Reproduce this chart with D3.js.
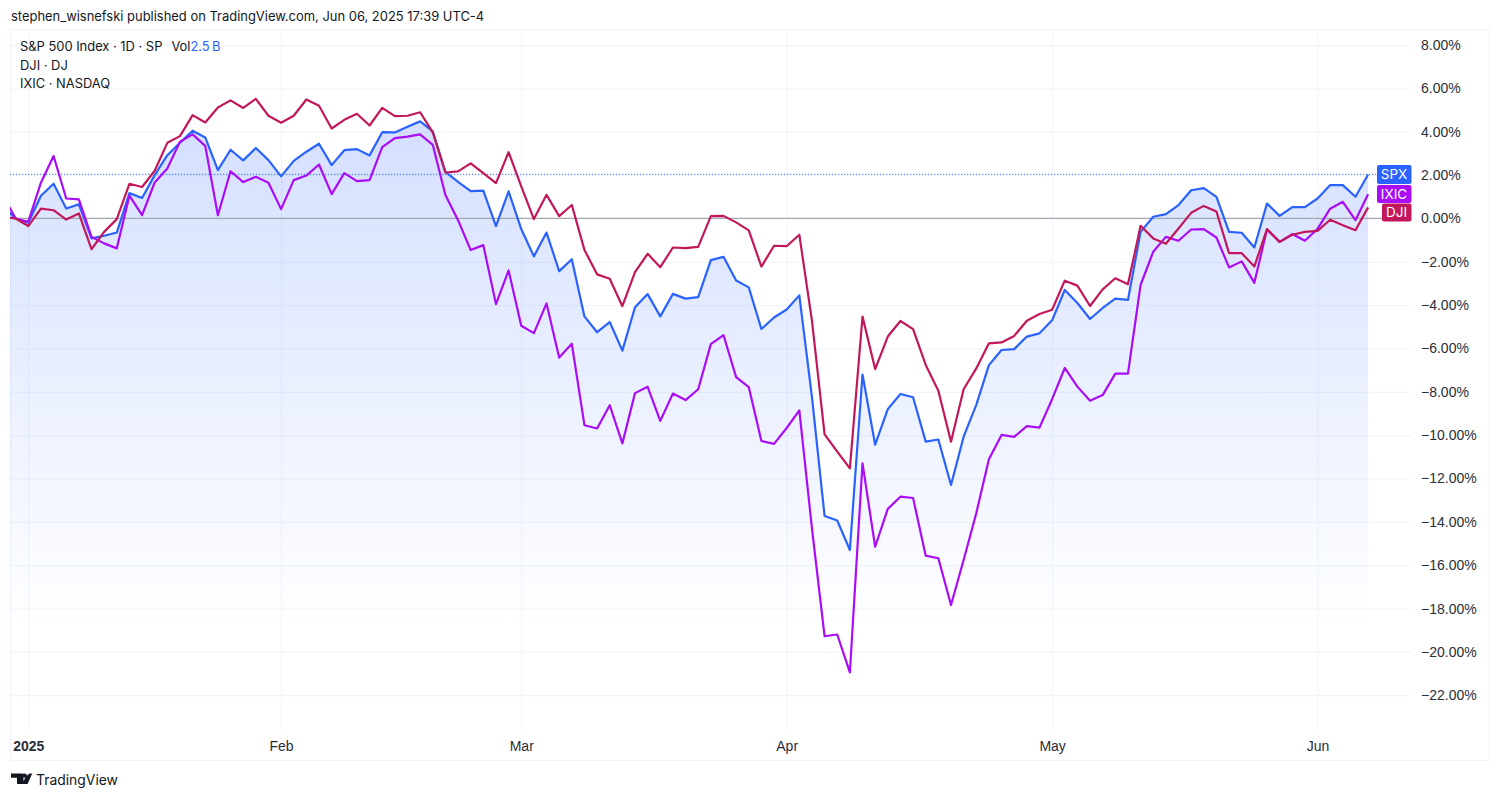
<!DOCTYPE html>
<html lang="en">
<head>
    <meta charset="UTF-8">
    <title>SPX, DJI, IXIC - 2025 YTD</title>
    <script src="https://d3js.org/d3.v7.min.js"></script>
    <style>
        body { margin: 0; background: #fff; }
        svg { display: block; font-family: Inter, "Noto Sans", Arial, sans-serif; }
        .y-axis text, .x-axis text { fill: #2a2e39; font-size: 14px; }
    </style>
</head>
<body>
    <svg id="chart" width="1500" height="798"></svg>

    <script>
        // trading days, Dec 30 sits left of the pane and gets clipped
        const tradingDays = [
            "2024-12-30", "2024-12-31",
            "2025-01-02", "2025-01-03", "2025-01-06", "2025-01-07", "2025-01-08", "2025-01-10", "2025-01-13", "2025-01-14", "2025-01-15", "2025-01-16",
            "2025-01-17", "2025-01-21", "2025-01-22", "2025-01-23", "2025-01-24", "2025-01-27", "2025-01-28", "2025-01-29", "2025-01-30", "2025-01-31",
            "2025-02-03", "2025-02-04", "2025-02-05", "2025-02-06", "2025-02-07", "2025-02-10", "2025-02-11", "2025-02-12", "2025-02-13", "2025-02-14",
            "2025-02-18", "2025-02-19", "2025-02-20", "2025-02-21", "2025-02-24", "2025-02-25", "2025-02-26", "2025-02-27", "2025-02-28",
            "2025-03-03", "2025-03-04", "2025-03-05", "2025-03-06", "2025-03-07", "2025-03-10", "2025-03-11", "2025-03-12", "2025-03-13", "2025-03-14",
            "2025-03-17", "2025-03-18", "2025-03-19", "2025-03-20", "2025-03-21", "2025-03-24", "2025-03-25", "2025-03-26", "2025-03-27", "2025-03-28", "2025-03-31",
            "2025-04-01", "2025-04-02", "2025-04-03", "2025-04-04", "2025-04-07", "2025-04-08", "2025-04-09", "2025-04-10", "2025-04-11", "2025-04-14",
            "2025-04-15", "2025-04-16", "2025-04-17", "2025-04-21", "2025-04-22", "2025-04-23", "2025-04-24", "2025-04-25", "2025-04-28", "2025-04-29", "2025-04-30",
            "2025-05-01", "2025-05-02", "2025-05-05", "2025-05-06", "2025-05-07", "2025-05-08", "2025-05-09", "2025-05-12", "2025-05-13", "2025-05-14", "2025-05-15",
            "2025-05-16", "2025-05-19", "2025-05-20", "2025-05-21", "2025-05-22", "2025-05-23", "2025-05-27", "2025-05-28", "2025-05-29", "2025-05-30",
            "2025-06-02", "2025-06-03", "2025-06-04", "2025-06-05", "2025-06-06"
        ];

        const spx = [
            0.55, 0,
            -0.2, 1.05, 1.6, 0.46, 0.65, -0.92, -0.8, -0.65, 1.17, 0.94, 2.0, 2.92, 3.49, 4.05, 3.74, 2.23, 3.17, 2.68, 3.25, 2.69,
            1.94, 2.66, 3.08, 3.45, 2.46, 3.15, 3.2, 2.91, 3.98, 3.97, 4.23, 4.48, 4.02, 2.15, 1.69, 1.26, 1.28, -0.35, 1.25,
            -0.49, -1.75, -0.65, -2.43, -1.88, -4.52, -5.25, -4.78, -6.1, -4.1, -3.49, -4.52, -3.48, -3.7, -3.63, -1.92, -1.77, -2.86, -3.18, -5.1, -4.57,
            -4.2, -3.55, -8.25, -13.73, -13.94, -15.3, -7.2, -10.44, -8.8, -8.1, -8.25, -10.3, -10.2, -12.3, -10.07, -8.6, -6.77, -6.07, -6.03, -5.45, -5.3,
            -4.7, -3.3, -3.9, -4.64, -4.13, -3.7, -3.76, -0.62, 0.08, 0.2, 0.62, 1.3, 1.4, 1.0, -0.62, -0.66, -1.34, 0.69, 0.12, 0.52, 0.52,
            0.92, 1.54, 1.54, 1.0, 2.03
        ];
        const dji = [
            0.07, 0,
            -0.35, 0.45, 0.38, -0.05, 0.23, -1.42, -0.62, -0.03, 1.6, 1.45, 2.2, 3.49, 3.8, 4.77, 4.43, 5.12, 5.45, 5.1, 5.52, 4.74,
            4.42, 4.74, 5.49, 5.2, 4.15, 4.55, 4.83, 4.29, 5.1, 4.72, 4.74, 4.9, 3.97, 2.12, 2.17, 2.54, 2.09, 1.63, 3.06,
            1.48, -0.03, 1.09, 0.11, 0.62, -1.45, -2.58, -2.78, -4.05, -2.48, -1.63, -2.25, -1.34, -1.37, -1.31, 0.11, 0.12, -0.18, -0.55, -2.22, -1.26,
            -1.28, -0.75, -4.72, -9.96, -10.76, -11.53, -4.53, -6.95, -5.45, -4.73, -5.11, -6.76, -7.95, -10.3, -7.88, -6.92, -5.76, -5.72, -5.42, -4.72, -4.41,
            -4.21, -2.87, -3.1, -4.04, -3.27, -2.76, -3.04, -0.34, -0.92, -1.17, -0.46, 0.26, 0.58, 0.32, -1.6, -1.6, -2.22, -0.49, -1.08, -0.75, -0.62,
            -0.57, -0.06, -0.31, -0.54, 0.51
        ];
        const ixic = [
            1.05, 0,
            -0.15, 1.65, 2.88, 0.92, 0.88, -0.85, -1.15, -1.38, 1.05, 0.15, 1.66, 2.31, 3.54, 3.88, 3.35, 0.15, 2.18, 1.68, 1.92, 1.65,
            0.43, 1.77, 1.98, 2.49, 1.12, 2.09, 1.72, 1.77, 3.29, 3.71, 3.78, 3.88, 3.4, 1.08, -0.08, -1.46, -1.23, -3.95, -2.4,
            -4.95, -5.29, -3.92, -6.42, -5.78, -9.54, -9.69, -8.62, -10.38, -8.06, -7.77, -9.34, -8.08, -8.38, -7.88, -5.8, -5.38, -7.32, -7.78, -10.27, -10.4,
            -9.67, -8.86, -14.3, -19.28, -19.2, -20.95, -11.3, -15.15, -13.4, -12.84, -12.9, -15.56, -15.68, -17.84, -15.76, -13.6, -11.11, -9.99, -10.08, -9.58, -9.65,
            -8.34, -6.9, -7.76, -8.41, -8.15, -7.16, -7.16, -3.07, -1.54, -0.85, -1.03, -0.51, -0.49, -0.88, -2.26, -1.98, -2.97, -0.51, -1.08, -0.72, -1.03,
            -0.48, 0.45, 0.77, -0.08, 1.12
        ];

        const yTicks = [8, 6, 4, 2, 0, -2, -4, -6, -8, -10, -12, -14, -16, -18, -20, -22];
        const monthTicks = ["2025-01-02", "2025-02-03", "2025-03-03", "2025-04-01", "2025-05-01", "2025-06-02"];
        const monthLabels = ["2025", "Feb", "Mar", "Apr", "May", "Jun"];
        const legendLines = ["S&P 500 Index · 1D · SP", "DJI · DJ", "IXIC · NASDAQ"];

        const BLUE = "#2962ff", PURPLE = "#aa0cf5", RED = "#c2185b", GRID = "#f0f3fa";
        const pane = { left: 10, right: 1411, top: 30, bottom: 730 };

        const svg = d3.select("#chart");

        const x = d3.scalePoint().domain(tradingDays).range([3.02, 1368.1]);
        const y = d3.scaleLinear().domain([8, -22]).range([45.1, 695.2]);

        svg.append("defs").append("clipPath").attr("id", "pane")
            .append("rect")
            .attr("x", pane.left).attr("y", pane.top)
            .attr("width", pane.right - pane.left).attr("height", pane.bottom - pane.top);

        const grad = svg.select("defs").append("linearGradient")
            .attr("id", "areaFill").attr("gradientUnits", "userSpaceOnUse")
            .attr("x1", 0).attr("x2", 0).attr("y1", y(4.5)).attr("y2", 625);
        grad.append("stop").attr("offset", 0).attr("stop-color", BLUE).attr("stop-opacity", 0.2);
        grad.append("stop").attr("offset", 1).attr("stop-color", BLUE).attr("stop-opacity", 0);

        // outer frame and title
        svg.append("rect").attr("x", 10.5).attr("y", 29.5).attr("width", 1479).attr("height", 731)
            .attr("fill", "none").attr("stroke", GRID);
        svg.append("text").attr("x", 11).attr("y", 21).attr("font-size", 12.95).attr("fill", "#131722")
            .text("stephen_wisnefski published on TradingView.com, Jun 06, 2025 17:39 UTC-4");

        // grid
        svg.append("g").attr("transform", `translate(${pane.left},0)`)
            .call(d3.axisRight(y).tickValues(yTicks).tickSize(pane.right - pane.left).tickFormat(""))
            .call(g => g.select(".domain").remove())
            .call(g => g.selectAll("line").attr("stroke", GRID));
        svg.append("g").attr("transform", `translate(0,${pane.top})`)
            .call(d3.axisBottom(x).tickValues(monthTicks).tickSize(pane.bottom - pane.top).tickFormat(""))
            .call(g => g.select(".domain").remove())
            .call(g => g.selectAll("line").attr("stroke", GRID));

        const plot = svg.append("g").attr("clip-path", "url(#pane)");

        const area = d3.area()
            .x((d, i) => x(tradingDays[i]))
            .y0(pane.bottom)
            .y1(d => y(d));
        const line = d3.line()
            .x((d, i) => x(tradingDays[i]))
            .y(d => y(d));

        plot.append("path").datum(spx).attr("d", area).attr("fill", "url(#areaFill)");

        // zero line and last-price line
        plot.append("line").attr("x1", pane.left).attr("x2", pane.right)
            .attr("y1", y(0)).attr("y2", y(0)).attr("stroke", "#a6a8b0").attr("stroke-width", 1.2);
        plot.append("line").attr("x1", pane.left).attr("x2", 1377)
            .attr("y1", y(spx[spx.length - 1])).attr("y2", y(spx[spx.length - 1]))
            .attr("stroke", BLUE).attr("stroke-opacity", 0.75).attr("stroke-width", 1.2).attr("stroke-dasharray", "1.2 1.8");

        [[spx, BLUE], [ixic, PURPLE], [dji, RED]].forEach(([values, color]) => {
            plot.append("path").datum(values).attr("d", line)
                .attr("fill", "none").attr("stroke", color).attr("stroke-width", 2.2)
                .attr("stroke-linejoin", "round");
        });

        // axes
        svg.append("g").attr("class", "y-axis").attr("transform", "translate(1421,0)")
            .call(d3.axisRight(y).tickValues(yTicks).tickSize(0).tickPadding(0)
                .tickFormat(d => (d < 0 ? "\u2212" : "") + d3.format(".2f")(Math.abs(d)) + "%"))
            .call(g => g.select(".domain").remove());

        svg.append("g").attr("class", "x-axis").attr("transform", "translate(0,741)")
            .call(d3.axisBottom(x).tickValues(monthTicks).tickSize(0).tickPadding(0)
                .tickFormat((d, i) => monthLabels[i]))
            .call(g => g.select(".domain").remove())
            .call(g => g.selectAll("text").attr("font-weight", (d, i) => i === 0 ? 700 : 400));

        // legend
        legendLines.forEach((t, i) => {
            const label = svg.append("text").attr("x", 20).attr("y", 51 + i * 18.5)
                .attr("font-size", 12.9).attr("fill", "#131722").text(t);
            if (i === 0) {
                label.append("tspan").attr("dx", 9).text("Vol");
                label.append("tspan").attr("fill", BLUE).text("2.5\u2009B");
            }
        });

        // price tags on the right
        const tags = [
            { name: "IXIC", color: PURPLE, left: 1377, top: 185, h: 18 },
            { name: "SPX", color: BLUE, left: 1377, top: 165, h: 19 },
            { name: "DJI", color: RED, left: 1382, top: 203.5, h: 18 }
        ];
        tags.forEach(t => {
            svg.append("rect").attr("x", t.left).attr("y", t.top)
                .attr("width", pane.right + 0.5 - t.left).attr("height", t.h).attr("rx", 2).attr("fill", t.color);
            svg.append("text").attr("x", (t.left + pane.right) / 2).attr("y", t.top + t.h / 2 + 4.8)
                .attr("text-anchor", "middle").attr("font-size", 13.5).attr("fill", "#fff").text(t.name);
        });

        // TradingView mark + wordmark
        svg.append("path").attr("fill", "#131722")
            .attr("d", "M11 773.5h12.5v10.5h-6.5v-6.3h-6z M29.5 773.5h2.7l-4.6 10.5h-5.2l3.2-7.2z");
        svg.append("circle").attr("cx", 24.8).attr("cy", 775.7).attr("r", 2.1).attr("fill", "#131722");
        svg.append("text").attr("x", 36).attr("y", 785).attr("font-size", 13.9).attr("fill", "#131722").text("TradingView");
    </script>
</body>
</html>
